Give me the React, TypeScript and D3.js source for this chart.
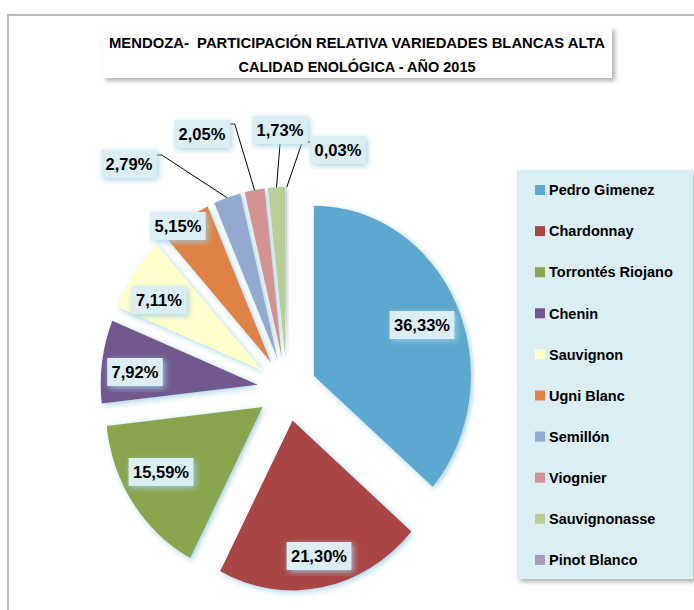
import React, { useEffect, useRef } from 'react';
import * as d3 from 'd3';

const varieties = ['Pedro Gimenez', 'Chardonnay', 'Torrontés Riojano', 'Chenin', 'Sauvignon', 'Ugni Blanc', 'Semillón', 'Viognier', 'Sauvignonasse', 'Pinot Blanco'];
const shares = [36.33, 21.30, 15.59, 7.92, 7.11, 5.15, 2.79, 2.05, 1.73, 0.03];
const colors = ['#5ba8d0', '#a94545', '#89a54e', '#71588f', '#ffffcc', '#df8244', '#93a9cf', '#d29392', '#b9cd96', '#a99bbd'];
const titleLines = ['MENDOZA-  PARTICIPACIÓN RELATIVA VARIEDADES BLANCAS ALTA', 'CALIDAD ENOLÓGICA - AÑO 2015'];

// label box centres (manual placement, like the excel original)
const labelPos = [[422, 325], [319, 556], [161, 472], [135, 372], [159, 300], [178, 226], [129, 164], [202, 134], [280, 130], [338, 150]];
// leader lines: which side of the box they leave from, and y offset from box top
const leaders = [
  { i: 6, side: 'right', dy: 5 },
  { i: 7, side: 'right', dy: 4 },
  { i: 8, side: 'bottom', dy: 0 },
  { i: 9, side: 'left', dy: 6 },
];

const FONT = "'Liberation Sans', Arial, sans-serif";

const App = () => {
  const ref = useRef<SVGSVGElement>(null);

  useEffect(() => {
    const svg = d3.select(ref.current);
    svg.selectAll('*').remove();

    const width = 694, height = 610;
    const cx = 287, cy = 389, r = 170, sx = 157 / 170, explode = 32;

    const defs = svg.append('defs');
    const glow = defs.append('filter').attr('id', 'glow').attr('x', '-20%').attr('y', '-20%').attr('width', '140%').attr('height', '140%');
    glow.append('feGaussianBlur').attr('in', 'SourceAlpha').attr('stdDeviation', 3).attr('result', 'b');
    glow.append('feOffset').attr('in', 'b').attr('dx', 2).attr('dy', 2).attr('result', 'o');
    glow.append('feFlood').attr('flood-color', '#9fd0e3').attr('flood-opacity', 0.9);
    glow.append('feComposite').attr('in2', 'o').attr('operator', 'in').attr('result', 's');
    const gm = glow.append('feMerge');
    gm.append('feMergeNode').attr('in', 's');
    gm.append('feMergeNode').attr('in', 'SourceGraphic');

    const shadow = defs.append('filter').attr('id', 'shadow').attr('x', '-10%').attr('y', '-10%').attr('width', '125%').attr('height', '125%');
    shadow.append('feGaussianBlur').attr('in', 'SourceAlpha').attr('stdDeviation', 2).attr('result', 'b');
    shadow.append('feOffset').attr('in', 'b').attr('dx', 3).attr('dy', 3).attr('result', 'o');
    shadow.append('feFlood').attr('flood-color', '#7f7f7f').attr('flood-opacity', 0.6);
    shadow.append('feComposite').attr('in2', 'o').attr('operator', 'in').attr('result', 's');
    const sm = shadow.append('feMerge');
    sm.append('feMergeNode').attr('in', 's');
    sm.append('feMergeNode').attr('in', 'SourceGraphic');

    svg.append('rect').attr('width', width).attr('height', height).attr('fill', '#fff');

    // chart area border
    svg.append('rect')
      .attr('x', 8).attr('y', 15).attr('width', width).attr('height', height)
      .attr('fill', 'none').attr('stroke', '#a6a6a6').attr('stroke-width', 1.5);

    // title
    svg.append('rect')
      .attr('x', 103).attr('y', 27).attr('width', 509).attr('height', 51)
      .attr('fill', '#fff').attr('filter', 'url(#shadow)');
    const titleW = [496, 237];
    svg.append('g').selectAll('text')
      .data(titleLines)
      .join('text')
        .attr('x', 357)
        .attr('y', (d, i) => 48 + i * 24)
        .attr('text-anchor', 'middle')
        .attr('font-family', FONT)
        .attr('font-weight', 'bold')
        .attr('font-size', 15.5)
        .attr('textLength', (d, i) => titleW[i])
        .attr('lengthAdjust', 'spacingAndGlyphs')
        .style('white-space', 'pre')
        .text(d => d);

    // pie
    const pie = d3.pie<number>().sort(null).value(d => d);
    const arcs = pie(shares);
    const arc = d3.arc<d3.PieArcDatum<number>>().innerRadius(0).outerRadius(r);
    const mid = (d: d3.PieArcDatum<number>) => (d.startAngle + d.endAngle) / 2;

    svg.append('g')
      .attr('transform', `translate(${cx},${cy}) scale(${sx},1)`)
      .selectAll('path')
      .data(arcs)
      .join('path')
        .attr('transform', d => `translate(${Math.sin(mid(d)) * explode},${-Math.cos(mid(d)) * explode})`)
        .attr('d', arc)
        .attr('fill', (d, i) => colors[i])
        .attr('filter', 'url(#glow)');

    // outer edge midpoint of each exploded slice, page coords
    const edge = (d: d3.PieArcDatum<number>) => [
      cx + sx * Math.sin(mid(d)) * (r + explode),
      cy - Math.cos(mid(d)) * (r + explode),
    ];

    const fmt = (v: number) => v.toFixed(2).replace('.', ',') + '%';
    const boxH = 28;
    const boxW = (s: string) => s.length * 9.3 + 9;

    // leader lines
    svg.append('g').selectAll('path')
      .data(leaders)
      .join('path')
        .attr('fill', 'none')
        .attr('stroke', '#000')
        .attr('stroke-width', 1)
        .attr('d', l => {
          const [lx, ly] = labelPos[l.i];
          const w = boxW(fmt(shares[l.i]));
          const [ex, ey] = edge(arcs[l.i]);
          const top = ly - boxH / 2;
          if (l.side === 'bottom') return `M${lx},${ly + boxH / 2}L${ex},${ey}`;
          if (l.side === 'right') {
            const x0 = lx + w / 2;
            return `M${x0},${top + l.dy}H${x0 + 5}L${ex},${ey}`;
          }
          const x0 = lx - w / 2;
          return `M${x0},${top + l.dy}H${x0 - 8}L${ex},${ey}`;
        });

    // data labels
    const lab = svg.append('g').selectAll('g')
      .data(shares)
      .join('g')
        .attr('transform', (d, i) => `translate(${labelPos[i][0]},${labelPos[i][1]})`);
    lab.append('rect')
      .attr('x', d => -boxW(fmt(d)) / 2)
      .attr('y', -boxH / 2)
      .attr('width', d => boxW(fmt(d)))
      .attr('height', boxH)
      .attr('fill', '#dbeef4')
      .attr('filter', 'url(#glow)');
    lab.append('text')
      .attr('text-anchor', 'middle')
      .attr('dy', '0.36em')
      .attr('font-family', FONT)
      .attr('font-weight', 'bold')
      .attr('font-size', 16.5)
      .text(d => fmt(d));

    // legend
    const legend = svg.append('g').attr('transform', 'translate(517,170)');
    legend.append('rect')
      .attr('width', 176).attr('height', 409)
      .attr('fill', '#dbeef4')
      .attr('filter', 'url(#shadow)');
    const item = legend.selectAll('g.item')
      .data(varieties)
      .join('g')
        .attr('class', 'item')
        .attr('transform', (d, i) => `translate(0,${20 + i * 41.1})`);
    item.append('rect')
      .attr('x', 18).attr('y', -5)
      .attr('width', 10).attr('height', 10)
      .attr('fill', (d, i) => colors[i]);
    item.append('text')
      .attr('x', 32)
      .attr('dy', '0.36em')
      .attr('font-family', FONT)
      .attr('font-weight', 'bold')
      .attr('font-size', 14.5)
      .text(d => d);
  }, []);

  return (
    <svg ref={ref} width={694} height={610} style={{ position: 'absolute', left: 0, top: 0 }}></svg>
  );
};

export default App;
